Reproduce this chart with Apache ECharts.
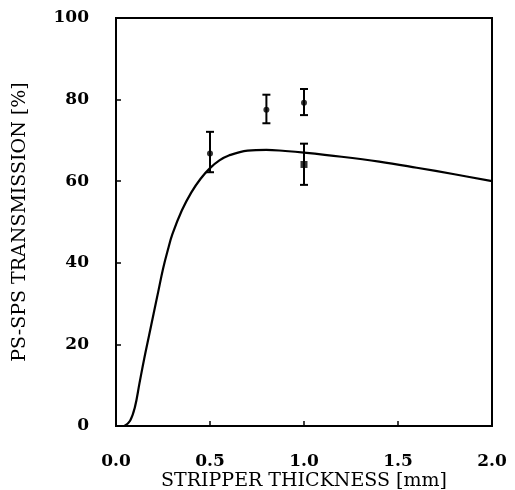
<!DOCTYPE html>
<html>
<head>
<meta charset="utf-8">
<script src="https://cdn.jsdelivr.net/npm/echarts@6/dist/echarts.min.js"></script>
<style>
  html, body { margin: 0; padding: 0; background: #fff; }
  #chart { width: 515px; height: 490px; }
</style>
</head>
<body>
<div id="chart"></div>
<script>
// model curve
var curveX = [0.045, 0.075, 0.1, 0.125, 0.15, 0.175, 0.2, 0.225, 0.25, 0.275, 0.3, 0.35, 0.4, 0.45, 0.5, 0.55, 0.6, 0.7, 0.8, 0.9, 1.0, 1.2, 1.4, 1.6, 1.8, 2.0];
var curveY = [0, 1.3, 4.5, 10.5, 16.5, 22, 27.5, 33, 38.5, 43, 47, 52.8, 57.2, 60.6, 63.2, 65.1, 66.3, 67.5, 67.7, 67.4, 67.0, 66.0, 64.8, 63.3, 61.7, 60.0];

// measurements with error bars
var pointX = [0.5, 0.8, 1.0, 1.0];
var pointY = [66.8, 77.5, 79.2, 64.1];
var errLow = [62.2, 74.2, 76.2, 59.1];
var errHigh = [72.1, 81.2, 82.6, 69.2];
var pointShape = ['circle', 'circle', 'circle', 'rect'];

var chartDom = document.getElementById('chart');
var myChart = echarts.init(chartDom);
var option;

var fontFam = 'DejaVu Serif';

option = {
    animation: false,
    grid: {
        left: 116,
        right: 23,
        top: 18,
        bottom: 64,
        outerBoundsMode: 'none',
        containLabel: false,
        show: true,
        borderColor: '#000',
        borderWidth: 2
    },
    xAxis: {
        type: 'value',
        min: 0,
        max: 2,
        interval: 0.5,
        name: 'STRIPPER THICKNESS [mm]',
        nameLocation: 'middle',
        nameGap: 46,
        nameMoveOverlap: false,
        nameTextStyle: {
            color: '#000',
            fontFamily: fontFam,
            fontSize: 19
        },
        axisLine: { lineStyle: { color: '#000', width: 2 } },
        axisTick: { inside: true, length: 5, lineStyle: { color: '#000', width: 1.5 } },
        axisLabel: {
            color: '#000',
            fontFamily: fontFam,
            fontWeight: 'bold',
            fontSize: 17,
            margin: 27,
            formatter: function (v) { return v.toFixed(1); }
        },
        splitLine: { show: false }
    },
    yAxis: {
        type: 'value',
        min: 0,
        max: 100,
        interval: 20,
        name: 'PS-SPS TRANSMISSION [%]',
        nameLocation: 'middle',
        nameGap: 86,
        nameMoveOverlap: false,
        nameTextStyle: {
            color: '#000',
            fontFamily: fontFam,
            fontSize: 19
        },
        axisLine: { show: true, lineStyle: { color: '#000', width: 2 } },
        axisTick: { show: true, inside: true, length: 5, lineStyle: { color: '#000', width: 1.5 } },
        axisLabel: {
            color: '#000',
            fontFamily: fontFam,
            fontWeight: 'bold',
            fontSize: 17,
            margin: 27
        },
        splitLine: { show: false }
    },
    series: [
        {
            name: 'curve',
            type: 'line',
            smooth: 0.4,
            showSymbol: false,
            lineStyle: { color: '#000', width: 2.2 },
            data: curveX.map(function (x, i) { return [x, curveY[i]]; })
        },
        {
            name: 'errors',
            type: 'custom',
            data: pointX.map(function (x, i) { return [x, errLow[i], errHigh[i]]; }),
            renderItem: function (params, api) {
                var lo = api.coord([api.value(0), api.value(1)]);
                var hi = api.coord([api.value(0), api.value(2)]);
                var w = 4;
                var st = { stroke: '#000', lineWidth: 2 };
                return {
                    type: 'group',
                    children: [
                        { type: 'line', shape: { x1: lo[0], y1: lo[1], x2: hi[0], y2: hi[1] }, style: st },
                        { type: 'line', shape: { x1: lo[0] - w, y1: lo[1], x2: lo[0] + w, y2: lo[1] }, style: st },
                        { type: 'line', shape: { x1: hi[0] - w, y1: hi[1], x2: hi[0] + w, y2: hi[1] }, style: st }
                    ]
                };
            },
            z: 3
        },
        {
            name: 'points',
            type: 'scatter',
            data: pointX.map(function (x, i) {
                return {
                    value: [x, pointY[i]],
                    symbol: pointShape[i],
                    symbolSize: pointShape[i] === 'rect' ? 7 : 6
                };
            }),
            itemStyle: { color: '#000' },
            z: 4
        }
    ]
};

option && myChart.setOption(option);
</script>
</body>
</html>
